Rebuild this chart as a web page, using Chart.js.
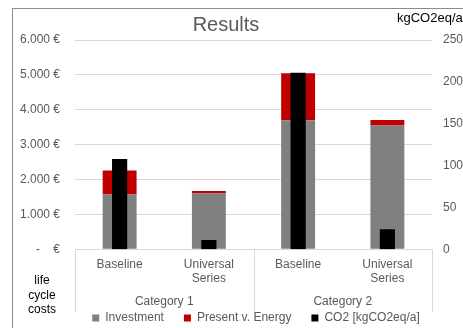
<!DOCTYPE html>
<html>
<head>
<meta charset="utf-8">
<script src="https://cdn.jsdelivr.net/npm/chart.js@4"></script>
<style>
  html, body { margin: 0; padding: 0; background: #fff; overflow: hidden; width: 463px; height: 328px; }
  #frame { position: absolute; left: 12px; top: 8px; width: 600px; height: 400px; border: 1px solid #8c8c8c; box-sizing: border-box; }
  #wrap { position: absolute; left: 0; top: 0; width: 512px; height: 334px; }
</style>
</head>
<body>
<div id="frame"></div>
<div id="wrap"><canvas id="chartResults"></canvas></div>
<script>
// Ergebnisse: Kosten (gestapelt) + CO2 auf zweiter Achse
var categories = ['Baseline', ['Universal', 'Series'], 'Baseline', ['Universal', 'Series']];
var groups = ['Category 1', 'Category 2'];
var investment = [1570, 1600, 3700, 3550];
var energy = [690, 70, 1350, 160];
var co2 = [108, 11, 211, 24];

var grey = '#808080',
    red = '#C00000',
    txt = '#595959',
    font = "'Liberation Sans', Arial, sans-serif";

Chart.defaults.font.family = font;
Chart.defaults.font.size = 12;
Chart.defaults.color = txt;

// Titel, Achsentitel, Gruppen und Trennlinien
var extras = {
    id: 'extras',
    afterDraw: function (chart) {
        var ctx = chart.ctx, area = chart.chartArea, x = chart.scales.x;
        ctx.save();
        ctx.strokeStyle = '#d9d9d9';
        ctx.lineWidth = 1;
        var mid = (x.getPixelForValue(1) + x.getPixelForValue(2)) / 2;
        [area.left, mid, area.right].forEach(function (px) {
            ctx.beginPath();
            ctx.moveTo(Math.round(px) + 0.5, area.bottom);
            ctx.lineTo(Math.round(px) + 0.5, 312);
            ctx.stroke();
        });
        ctx.textAlign = 'center';
        ctx.textBaseline = 'middle';
        ctx.fillStyle = txt;
        ctx.font = '12px ' + font;
        groups.forEach(function (g, i) {
            var cx = (x.getPixelForValue(i * 2) + x.getPixelForValue(i * 2 + 1)) / 2;
            ctx.fillText(g, cx, 302);
        });
        ctx.font = '20px ' + font;
        ctx.fillText('Results', 226, 25);
        ctx.fillStyle = '#000';
        ctx.font = '13px ' + font;
        ctx.textAlign = 'left';
        ctx.fillText('kgCO2eq/a', 397, 18);
        ctx.textAlign = 'center';
        ctx.font = '12px ' + font;
        ctx.fillText('life', 42, 281);
        ctx.fillText('cycle', 42, 296);
        ctx.fillText('costs', 42, 310);
        ctx.restore();
    }
};

var chartResults = new Chart(document.getElementById('chartResults'), {
    type: 'bar',
    data: {
        labels: categories,
        datasets: [{
            label: 'Investment',
            data: investment,
            backgroundColor: grey,
            yAxisID: 'y',
            order: 2,
            barPercentage: 0.38,
            categoryPercentage: 1
        }, {
            label: 'Present v. Energy',
            data: energy,
            backgroundColor: red,
            yAxisID: 'y',
            order: 2,
            barPercentage: 0.38,
            categoryPercentage: 1
        }, {
            label: 'CO2 [kgCO2eq/a]',
            data: co2,
            backgroundColor: '#000',
            yAxisID: 'y1',
            order: 1,
            barPercentage: 0.17,
            categoryPercentage: 1
        }]
    },
    options: {
        responsive: true,
        maintainAspectRatio: false,
        animation: false,
        layout: { padding: { top: 40, left: 0, right: 0, bottom: 0 } },
        plugins: {
            title: { display: false },
            tooltip: { enabled: false },
            legend: {
                position: 'bottom',
                labels: {
                    boxWidth: 7,
                    boxHeight: 7,
                    padding: 20,
                    color: txt,
                    font: { size: 12 },
                    sort: function (a, b) { return a.datasetIndex - b.datasetIndex; }
                }
            }
        },
        scales: {
            x: {
                stacked: true,
                grid: { display: false, drawTicks: false },
                border: { display: false },
                ticks: { padding: 8, maxRotation: 0, autoSkip: false },
                afterFit: function (s) { s.height = 42.7; }
            },
            y: {
                stacked: true,
                min: 0,
                max: 6000,
                ticks: {
                    stepSize: 1000,
                    padding: 15,
                    callback: function (v) {
                        return v === 0 ? '-    €' : v.toLocaleString('de-DE') + ' €';
                    }
                },
                grid: { color: '#d9d9d9', drawTicks: false },
                border: { display: false },
                afterFit: function (s) { s.width = 75; }
            },
            y1: {
                position: 'right',
                min: 0,
                max: 250,
                ticks: { stepSize: 50, padding: 11 },
                grid: { display: false, drawTicks: false },
                border: { display: false },
                afterFit: function (s) { s.width = 80; }
            }
        }
    },
    plugins: [extras]
});
</script>
</body>
</html>
